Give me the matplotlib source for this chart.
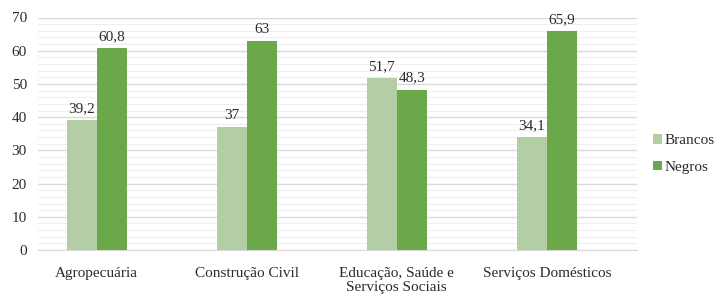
import numpy as np
import matplotlib.pyplot as plt

categories = ["Agropecuária", "Construção Civil", "Educação, Saúde e\nServiços Sociais", "Serviços Domésticos"]
brancos = [39.2, 37, 51.7, 34.1]
negros = [60.8, 63, 48.3, 65.9]
brancos_labels = ["39,2", "37", "51,7", "34,1"]
negros_labels = ["60,8", "63", "48,3", "65,9"]

plt.rcParams['font.family'] = ['Liberation Serif', 'DejaVu Serif']

fig = plt.figure(figsize=(7.27, 2.96), dpi=100)
ax = fig.add_axes([38 / 727, 46 / 296, 599 / 727, 232.5 / 296])

x = np.arange(len(categories))
w = 0.2
c_light = "#b3cea5"
c_dark = "#6aa84a"
txt = "#2b2b2b"
fs = 11
b1 = ax.bar(x - w / 2, brancos, w, color=c_light, label="Brancos", zorder=3)
b2 = ax.bar(x + w / 2, negros, w, color=c_dark, label="Negros", zorder=3)

for rect, lab in zip(b1, brancos_labels):
    ax.text(rect.get_x() + rect.get_width() / 2, rect.get_height() + 1.5, lab,
            ha="center", va="bottom", fontsize=fs, color=txt)
for rect, lab in zip(b2, negros_labels):
    ax.text(rect.get_x() + rect.get_width() / 2, rect.get_height() + 1.5, lab,
            ha="center", va="bottom", fontsize=fs, color=txt)

ax.set_ylim(0, 70)
ax.set_xlim(-0.39, 3.6)
ax.set_yticks(range(0, 71, 10))
ax.set_yticks(range(0, 71, 2), minor=True)
ax.grid(axis="y", which="major", color="#d9d9d9", lw=1, zorder=0)
ax.grid(axis="y", which="minor", color="#efefef", lw=0.8, zorder=0)
ax.set_xticks(x)
ax.set_xticklabels(categories, fontsize=fs, color=txt, linespacing=1.1)
ax.tick_params(axis="y", labelsize=fs, labelcolor=txt, length=0, pad=8)
ax.tick_params(axis="y", which="minor", length=0)
ax.tick_params(axis="x", length=0, pad=12)
for s in ["top", "right", "left"]:
    ax.spines[s].set_visible(False)
ax.spines["bottom"].set_color("#d9d9d9")

fig.legend(loc="center left", bbox_to_anchor=(639 / 727, 0.48), frameon=False,
           fontsize=fs, handlelength=0.6, handleheight=0.6, handletextpad=0.2,
           labelspacing=0.9, labelcolor=txt)

fig.savefig("out.png", dpi=100)
